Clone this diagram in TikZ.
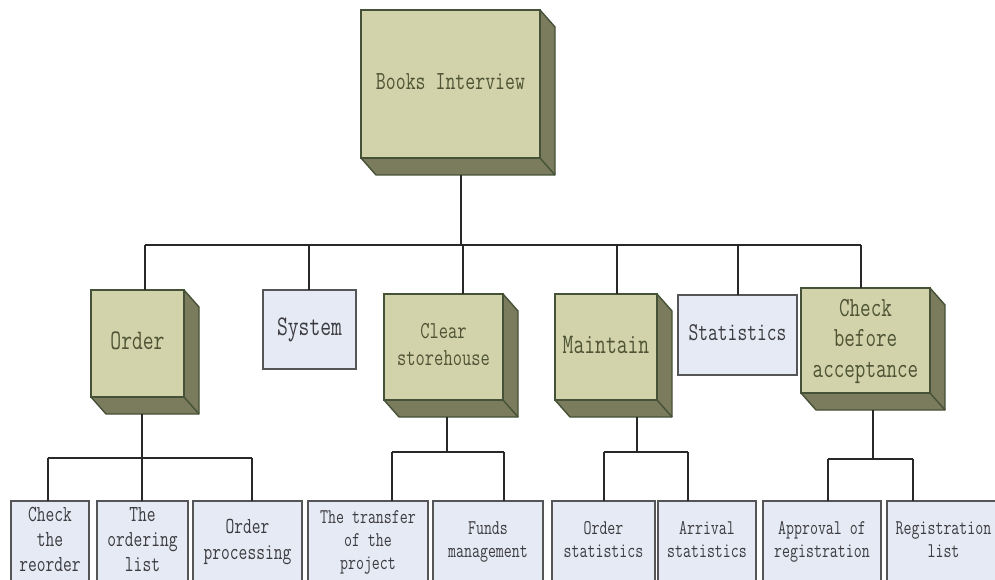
\documentclass[tikz,border=0pt]{standalone}
\usepackage{graphicx}

\definecolor{cubefront}{RGB}{211,211,171}
\definecolor{cubeside}{RGB}{123,123,93}
\definecolor{cubeedge}{RGB}{70,82,55}
\definecolor{cubetext}{RGB}{78,84,52}
\definecolor{flatfill}{RGB}{230,234,245}
\definecolor{flatedge}{RGB}{85,85,88}
\definecolor{flattext}{RGB}{60,60,64}
\definecolor{linkcol}{RGB}{40,40,40}

% centred stack of lines, stretched vertically for a tall, narrow type face
\newcommand\stacked[1]{\scalebox{1}[1.35]{\begin{tabular}{@{}c@{}}#1\end{tabular}}}
\newcommand\boxfont[1]{\fontsize{#1bp}{\dimexpr #1bp*11/10\relax}\selectfont\ttfamily}

% extruded box: name, x1, y1, x2, y2, font size, text
\newcommand\cubebox[7]{%
  \filldraw[cubeside face] (#4,#3) -- (#4+15,#3+17) -- (#4+15,#5+17)
      -- (#2+15,#5+17) -- (#2,#5) -- cycle;
  \draw[cubeside face] (#4,#5) -- (#4+15,#5+17);
  \node[cubefront face, minimum width={(#4-#2)*1bp}, minimum height={(#5-#3)*1bp},
        font=\boxfont{#6}] (#1) at ({(#2+#4)/2},{(#3+#5)/2}) {\stacked{#7}};
}
% plain box: name, x1, y1, x2, y2, font size, text
\newcommand\flatbox[7]{%
  \node[plainbox, minimum width={(#4-#2)*1bp}, minimum height={(#5-#3)*1bp},
        font=\boxfont{#6}] (#1) at ({(#2+#4)/2},{(#3+#5)/2}) {\stacked{#7}};
}

\begin{document}
\begin{tikzpicture}[x=1bp, y=-1bp,
  cubefront face/.style={draw=cubeedge, fill=cubefront, line width=1.4bp,
    inner sep=0pt, outer sep=0pt, text=cubetext},
  cubeside face/.style={draw=cubeedge, fill=cubeside, line width=1.4bp, line join=round},
  plainbox/.style={draw=flatedge, fill=flatfill, line width=1.8bp,
    inner sep=0pt, outer sep=0pt, text=flattext},
  link/.style={draw=linkcol, line width=1.4bp}]

\useasboundingbox (0,0) rectangle (995,580);
\fill[white] (0,0) rectangle (995,580);
\clip (0,0) rectangle (995,580);

% root
\cubebox{books}{361}{10}{540}{158}{19.3}{Books Interview}

% second level
\cubebox{order}{91}{290}{184}{397}{21}{Order}
\flatbox{system}{263}{290}{356}{369}{21}{System}
\cubebox{clear}{384}{294}{503}{400}{18}{Clear\\storehouse}
\cubebox{maintain}{555}{294}{657}{400}{21}{Maintain}
\flatbox{stats}{678}{295}{797}{375}{19}{Statistics}
\cubebox{check}{801}{288}{930}{393}{20.5}{Check\\before\\acceptance}

% third level
\flatbox{l1}{11}{501}{89}{582}{17}{Check\\the\\reorder}
\flatbox{l2}{97}{501}{188}{582}{17}{The\\ordering\\list}
\flatbox{l3}{193}{501}{302}{582}{17}{Order\\processing}
\flatbox{l4}{308}{501}{428}{582}{15.5}{The transfer\\of the\\project}
\flatbox{l5}{433}{501}{543}{582}{15.5}{Funds\\management}
\flatbox{l6}{552}{501}{655}{582}{15.5}{Order\\statistics}
\flatbox{l7}{658}{501}{756}{582}{15.5}{Arrival\\statistics}
\flatbox{l8}{763}{501}{881}{582}{15.5}{Approval of\\registration}
\flatbox{l9}{887}{501}{1000}{582}{15.5}{Registration\\list}

% main bus
\coordinate (booksout) at (461,175);
\coordinate (bus1) at (145,245);
\coordinate (bus2) at (309,245);
\coordinate (bus3) at (463,245);
\coordinate (bus4) at (617,245);
\coordinate (bus5) at (738,245);
\coordinate (bus6) at (861,245);
\draw[link] (booksout) -- (booksout |- bus1);
\draw[link] (bus1) -- (bus6);
\draw[link] (bus1) -- (bus1 |- order.north);
\draw[link] (bus2) -- (bus2 |- system.north);
\draw[link] (bus3) -- (bus3 |- clear.north);
\draw[link] (bus4) -- (bus4 |- maintain.north);
\draw[link] (bus5) -- (bus5 |- stats.north);
\draw[link] (bus6) -- (bus6 |- check.north);

% Order branch
\coordinate (orderout) at (142,414);
\coordinate (o1) at (48,458);
\coordinate (o2) at (142,458);
\coordinate (o3) at (252,458);
\draw[link] (orderout) -- (o2);
\draw[link] (o1) -- (o3);
\draw[link] (o1) -- (o1 |- l1.north);
\draw[link] (o2) -- (o2 |- l2.north);
\draw[link] (o3) -- (o3 |- l3.north);

% Clear storehouse branch
\coordinate (clearout) at (447,417);
\coordinate (c1) at (392,452);
\coordinate (c2) at (504,452);
\draw[link] (clearout) -- (clearout |- c1);
\draw[link] (c1) -- (c2);
\draw[link] (c1) -- (c1 |- l4.north);
\draw[link] (c2) -- (c2 |- l5.north);

% Maintain branch
\coordinate (maintout) at (637,417);
\coordinate (m1) at (604,452);
\coordinate (m2) at (688,452);
\draw[link] (maintout) -- (maintout |- m1);
\draw[link] (m1) -- (m2);
\draw[link] (m1) -- (m1 |- l6.north);
\draw[link] (m2) -- (m2 |- l7.north);

% Check before acceptance branch
\coordinate (checkout) at (873,410);
\coordinate (k1) at (828,459);
\coordinate (k2) at (913,459);
\draw[link] (checkout) -- (checkout |- k1);
\draw[link] (k1) -- (k2);
\draw[link] (k1) -- (k1 |- l8.north);
\draw[link] (k2) -- (k2 |- l9.north);

\end{tikzpicture}
\end{document}
